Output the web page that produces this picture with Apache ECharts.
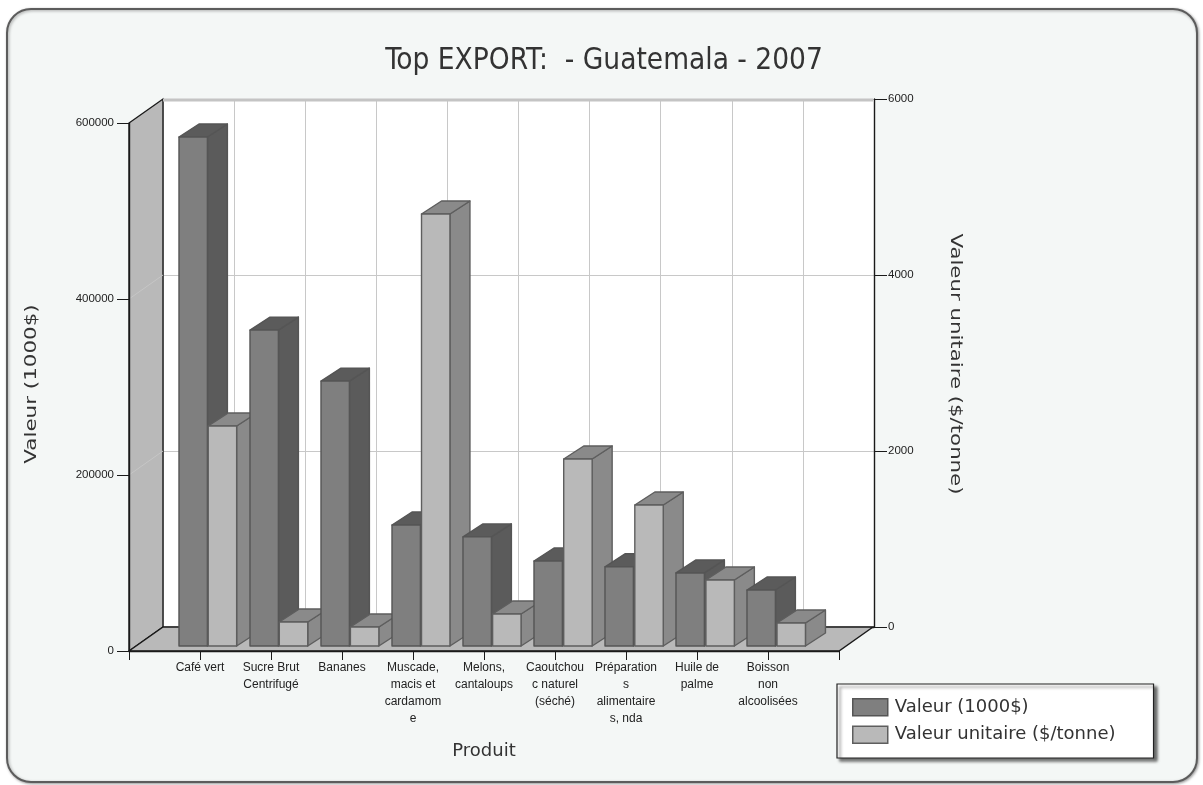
<!DOCTYPE html>
<html><head><meta charset="utf-8">
<script src="https://cdn.jsdelivr.net/npm/echarts@6/dist/echarts.min.js"></script>
<style>html,body{margin:0;padding:0;background:#fff}#c{width:1203px;height:785px;filter:blur(0.45px)}</style>
</head><body><div id="c"></div>
<script>
const chartTitle = 'Top EXPORT:  - Guatemala - 2007';
const categories = ['Café vert','Sucre Brut\nCentrifugé','Bananes','Muscade,\nmacis et\ncardamom\ne','Melons,\ncantaloups','Caoutchou\nc naturel\n(séché)','Préparation\ns\nalimentaire\ns, nda','Huile de\npalme','Boisson\nnon\nalcoolisées'];
const valeur = [578400,359000,301000,137500,124000,96600,90000,83000,63600];
const valeurUnitaire = [2500,273,216,4909,364,2125,1602,750,261];
const leftName = 'Valeur (1000$)';
const rightName = 'Valeur unitaire ($/tonne)';
const xName = 'Produit';

const axisCats = ['', ...categories, ''];
const uiFont = 'DejaVu Sans';
const titleFont = '"DejaVu Sans Condensed","DejaVu Sans"';
const smallFont = 'Liberation Sans';
const depth = [34, -24];
const barDepth = [20, -13];

function faces(x, yTop, yBase, w, fill, dark, stroke, z2) {
  const dx = barDepth[0], dy = barDepth[1];
  const st = {stroke, lineWidth: 1.4, lineJoin: 'round'};
  return {type:'group', children:[
    {type:'polygon', z2, shape:{points:[[x+w,yTop],[x+w+dx,yTop+dy],[x+w+dx,yBase+dy],[x+w,yBase]]}, style:{fill:dark, ...st}},
    {type:'polygon', z2, shape:{points:[[x,yTop],[x+dx,yTop+dy],[x+w+dx,yTop+dy],[x+w,yTop]]}, style:{fill:dark, ...st}},
    {type:'rect', z2, shape:{x, y:yTop, width:w, height:yBase-yTop}, style:{fill, ...st}}
  ]};
}
function renderDark(params, api) {
  const top = api.coord([api.value(0), api.value(1)]);
  const base = api.coord([api.value(0), 0]);
  const band = api.size([1, 0])[0];
  const w = band * 0.4;
  return faces(top[0] - band * 0.31 + 1, top[1] - 5, base[1] - 5, w, '#7f7f7f', '#5b5b5b', '#555555', 10 + api.value(0) * 10);
}
function renderLight(params, api) {
  const top = api.coord([api.value(0), api.value(1)]);
  const base = api.coord([api.value(0), 0]);
  const band = api.size([1, 0])[0];
  const w = band * 0.4;
  return faces(top[0] - depth[0] + band * 0.1 + 1, top[1] + 19, base[1] + 19, w, '#b9b9b9', '#8a8a8a', '#5e5e5e', 15 + api.value(0) * 10);
}
function renderFrame(params, api) {
  const fl = api.coord([0, 0]);
  const tl = api.coord([0, 600000]);
  const fr = api.coord([10, 0]);
  const d = depth;
  const st = {fill:'#b9b9b9', stroke:'#1a1a1a', lineWidth:1.4};
  const wallLine = v => {
    const p = api.coord([0, v]);
    return {type:'line', z2:1, shape:{x1:p[0], y1:p[1], x2:p[0]+d[0], y2:p[1]+d[1]}, style:{stroke:'#c6c6c6', lineWidth:1}};
  };
  return {type:'group', children:[
    {type:'polygon', z2:1, shape:{points:[fl,tl,[tl[0]+d[0],tl[1]+d[1]],[fl[0]+d[0],fl[1]+d[1]]]}, style:st},
    wallLine(200000), wallLine(400000),
    {type:'polygon', z2:1, shape:{points:[fl,[fl[0]+d[0],fl[1]+d[1]],[fr[0]+d[0],fr[1]+d[1]],fr]}, style:st},
    {type:'line', z2:1, shape:{x1:tl[0]+d[0], y1:tl[1]+d[1]+1, x2:fr[0]+d[0], y2:tl[1]+d[1]+1}, style:{stroke:'#c4c4c4', lineWidth:3}}
  ]};
}
const plain = v => String(v);
const tickLabel = {fontFamily:smallFont, fontSize:11.5, color:'#222', formatter:plain};
const chart = echarts.init(document.getElementById('c'), null, {renderer:'canvas'});
chart.setOption({
  animation:false,
  backgroundColor:'#ffffff',
  graphic:[
    {type:'rect', silent:true, z:-10, shape:{x:7,y:9,width:1190,height:773,r:24},
     style:{fill:'#f4f7f6', stroke:'#5c5c5c', lineWidth:2, shadowBlur:3, shadowOffsetX:1, shadowOffsetY:1, shadowColor:'rgba(0,0,0,0.35)'}},
    {type:'text', silent:true, z:6, x:32, y:384, rotation:Math.PI/2, scaleX:1.34,
     style:{text:leftName, fontFamily:uiFont, fontSize:16, fill:'#333', align:'center', verticalAlign:'middle'}},
    {type:'text', silent:true, z:6, x:955, y:364, rotation:-Math.PI/2, scaleX:1.33,
     style:{text:rightName, fontFamily:uiFont, fontSize:16, fill:'#333', align:'center', verticalAlign:'middle'}}
  ],
  title:{text:chartTitle, left:604, top:46, textAlign:'center', padding:0,
    textStyle:{fontFamily:titleFont, fontWeight:'normal', fontSize:29.5, color:'#333'}},
  legend:{orient:'vertical', left:837, top:684, padding:[14,38,14,15], itemWidth:35, itemHeight:17, itemGap:9, itemStyle:{borderWidth:1.5},
    backgroundColor:'#fff', borderColor:'#222', borderWidth:1.2, borderRadius:0,
    shadowColor:'rgba(0,0,0,0.55)', shadowBlur:3, shadowOffsetX:3, shadowOffsetY:3,
    textStyle:{fontFamily:uiFont, fontSize:18, color:'#333', padding:[0,0,3,2]},
    data:[{name:leftName, icon:'rect'},{name:rightName, icon:'rect'}]},
  grid:[
    {left:129, top:123, width:710, height:528},
    {left:163, top:99, width:711, height:528, show:true, backgroundColor:'#fff', borderWidth:0}
  ],
  xAxis:[
    {type:'category', gridIndex:0, data:axisCats, boundaryGap:false, z:5,
     name:xName, nameLocation:'middle', nameGap:91, nameTextStyle:{fontFamily:uiFont, fontSize:18, color:'#333'},
     axisLine:{lineStyle:{color:'#1a1a1a', width:1.4}}, axisTick:{show:true, interval:0, length:9, lineStyle:{color:'#1a1a1a'}},
     axisLabel:{fontFamily:smallFont, fontSize:12, color:'#222', interval:0, margin:8, lineHeight:17, hideOverlap:false}},
    {type:'category', gridIndex:1, data:axisCats, boundaryGap:false,
     axisLine:{show:true, lineStyle:{color:'#1a1a1a', width:1.4}}, axisTick:{show:false}, axisLabel:{show:false},
     splitLine:{show:true, interval:0, lineStyle:{color:'#c8c8c8', width:1}}}
  ],
  yAxis:[
    {type:'value', gridIndex:0, position:'left', min:0, max:600000, interval:200000, z:5,
     axisLine:{show:true, lineStyle:{color:'#1a1a1a', width:1.4}}, axisTick:{show:true, length:12, lineStyle:{color:'#1a1a1a'}},
     axisLabel:{...tickLabel, margin:15, padding:[0,0,4,0]}, splitLine:{show:false}},
    {type:'value', gridIndex:1, position:'right', min:0, max:6000, interval:2000,
     axisLine:{show:true, lineStyle:{color:'#1a1a1a', width:1.4}}, axisTick:{show:true, length:13, lineStyle:{color:'#1a1a1a'}},
     axisLabel:{...tickLabel, margin:14, padding:[0,0,4,0]},
     splitLine:{show:true, lineStyle:{color:'#c8c8c8', width:1}}}
  ],
  series:[
    {type:'custom', name:'frame', xAxisIndex:0, yAxisIndex:0, silent:true, renderItem:renderFrame, data:[[0,0]], encode:{x:0,y:1}},
    {type:'custom', name:leftName, xAxisIndex:0, yAxisIndex:0, renderItem:renderDark, encode:{x:0,y:1},
     itemStyle:{color:'#7f7f7f', borderColor:'#555555', borderWidth:1.5},
     data:valeur.map((v,i)=>[i+1,v])},
    {type:'custom', name:rightName, xAxisIndex:1, yAxisIndex:1, renderItem:renderLight, encode:{x:0,y:1},
     itemStyle:{color:'#b9b9b9', borderColor:'#5e5e5e', borderWidth:1.5},
     data:valeurUnitaire.map((v,i)=>[i+1,v])}
  ]
});
</script></body></html>
